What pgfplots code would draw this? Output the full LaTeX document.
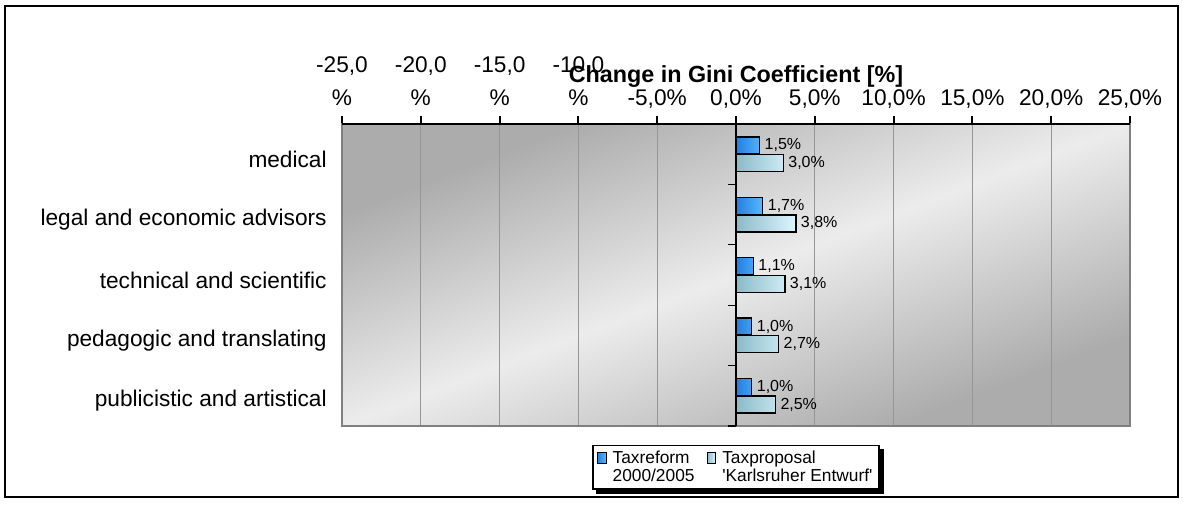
\documentclass[border=0pt]{standalone}
\usepackage{pgfplots}
\pgfplotsset{compat=1.18}
\usetikzlibrary{backgrounds}
\usepackage{fontspec}
\setmainfont{Liberation Sans}
\newfontfamily\plainfont{Liberation Sans}

\definecolor{bgdark}{RGB}{172,172,172}
\definecolor{bglight}{RGB}{236,236,236}
\definecolor{gridc}{RGB}{150,150,150}
\definecolor{borderc}{RGB}{128,128,128}
\definecolor{bluedark}{RGB}{36,126,222}
\definecolor{bluelight}{RGB}{88,184,255}
\definecolor{cyandark}{RGB}{140,186,200}
\definecolor{cyanlight}{RGB}{220,246,255}

\begin{document}
\begin{tikzpicture}
\path[use as bounding box] (-256.5pt,-58.5pt) rectangle (630.75pt,319.5pt);
\draw[line width=1.5pt] (-252.75pt,-53.25pt) rectangle (627pt,315pt);
\shade[transform canvas={xscale=2.6093}, top color=bgdark, bottom color=bgdark, middle color=bglight, shading angle=45] (0pt,0pt) rectangle (226.5pt,226.5pt);
\begin{axis}[
  at={(0,0)}, anchor=south west,
  scale only axis, width=591pt, height=226.5pt,
  xbar, bar width=12.75pt,
  xmin=-25, xmax=25, ymin=-0.5, ymax=4.5, y dir=reverse,
  xtick={-25,-20,...,25},
  xticklabels={{-25,0\\\%},{-20,0\\\%},{-15,0\\\%},{-10,0\\\%},{-5,0\%},{0,0\%},{5,0\%},{10,0\%},{15,0\%},{20,0\%},{25,0\%}},
  xtick pos=right, xticklabel pos=right,
  xticklabel style={font=\fontsize{17}{24.75}\selectfont, align=center, text depth=4pt},
  tick align=outside, major tick length=6pt,
  xtick style={black, line width=1.5pt},
  ytick={0,...,4},
  yticklabels={medical, legal and economic advisors, technical and scientific, pedagogic and translating, publicistic and artistical},
  yticklabel style={font=\fontsize{17}{20}\selectfont, xshift=-2pt, yshift=-4pt},
  ytick style={draw=none},
  xmajorgrids, grid style={gridc, line width=1pt},
  axis line style={borderc, line width=1.5pt},
  point meta=x,
  nodes near coords={\pgfmathprintnumber[fixed,fixed zerofill,precision=1,use comma]{\pgfplotspointmeta}\%},
  nodes near coords align=horizontal,
  every node near coord/.append style={font=\fontsize{12}{14}\selectfont, black},
  /pgf/number format/assume math mode=true,
  title={Change in Gini Coefficient [\%]},
  title style={at={(0.5,1)}, anchor=base, yshift=25pt, font=\fontsize{17.5}{20}\selectfont\bfseries},
  legend columns=2,
  legend style={at={(0.5,0)}, anchor=north, yshift=-14.25pt, draw=black, line width=1pt, fill=white,
    font=\fontsize{13}{13.5}\selectfont, inner xsep=3pt, inner ysep=2pt, cells={align=left},
    name=leg,
    /tikz/every odd column/.append style={column sep=2.5pt},
    /tikz/every even column/.append style={column sep=7pt}},
  legend image code/.code={\draw[#1, draw=black, line width=0.8pt] (0pt,2.5pt) rectangle (6.5pt,11pt);},
  clip=false,
]
\addplot[draw=black, line width=1pt, left color=bluedark, right color=bluelight, bar shift=6.6pt]
  coordinates {(1.5,0) (1.7,1) (1.1,2) (1.0,3) (1.0,4)};
\addplot[draw=black, line width=1pt, left color=cyandark, right color=cyanlight, bar shift=-6.6pt]
  coordinates {(3.0,0) (3.8,1) (3.1,2) (2.7,3) (2.5,4)};
\legend{Taxreform\\2000/2005, Taxproposal\\{\plainfont 'Karlsruher Entwurf'}}
\draw[black, line width=1.5pt] (axis cs:0,-0.5) -- (axis cs:0,4.5);
\draw[black, line width=1pt] (axis cs:0,0.5) -- ++(-6pt,0pt);
\draw[black, line width=1pt] (axis cs:0,1.5) -- ++(-6pt,0pt);
\draw[black, line width=1pt] (axis cs:0,2.5) -- ++(-6pt,0pt);
\draw[black, line width=1pt] (axis cs:0,3.5) -- ++(-6pt,0pt);
\draw[black, line width=1pt] (axis cs:0,4.5) -- ++(-6pt,0pt);
\draw[black, line width=1.5pt] (axis description cs:0,1) -- (axis description cs:1,1);
\end{axis}
\begin{scope}[on background layer]
\fill[black] ([xshift=3pt,yshift=-3pt]leg.south west) rectangle ([xshift=3pt,yshift=-3pt]leg.north east);
\end{scope}
\end{tikzpicture}
\end{document}
